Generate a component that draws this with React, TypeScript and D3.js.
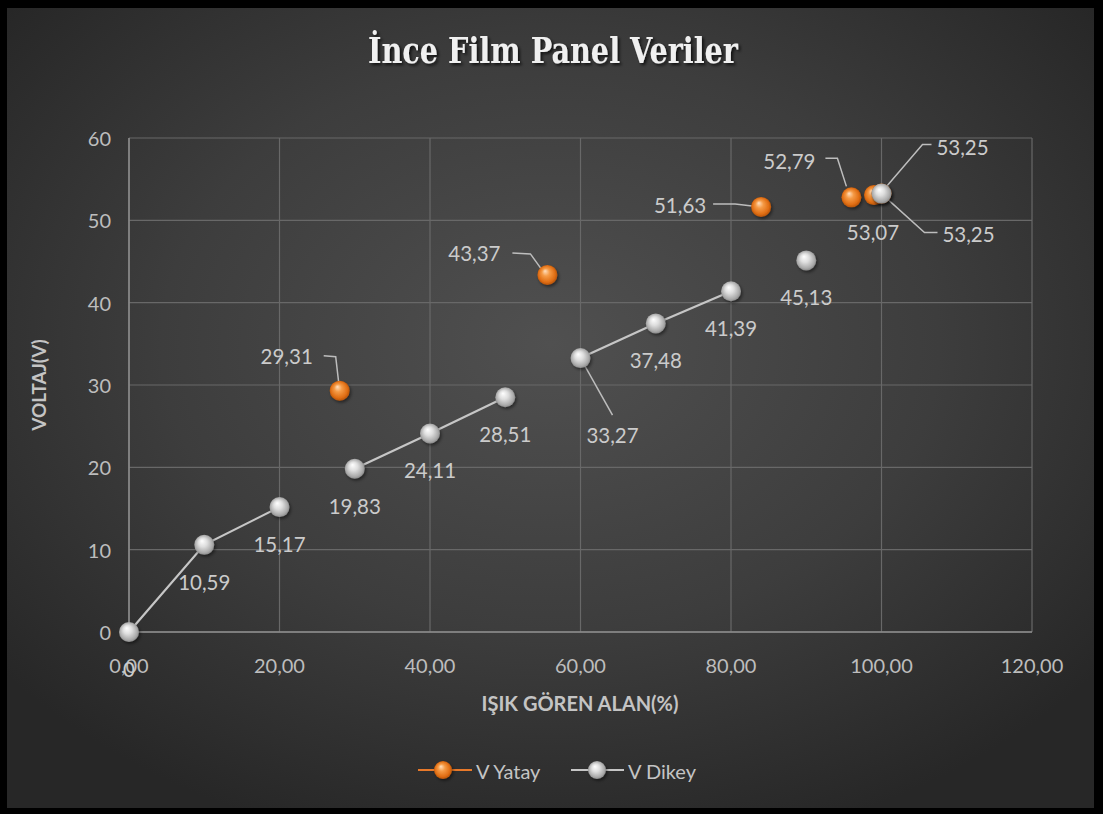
import React from 'react';
import * as d3 from 'd3';

const chartTitle = 'İnce Film Panel Veriler';
const xAxisTitle = 'IŞIK GÖREN ALAN(%)';
const yAxisTitle = 'VOLTAJ(V)';
const seriesNames = ['V Yatay', 'V Dikey'];

const dikeyX = [0, 10, 20, 30, 40, 50, 60, 70, 80, 90, 100];
const dikeyV = [0, 10.59, 15.17, 19.83, 24.11, 28.51, 33.27, 37.48, 41.39, 45.13, 53.25];
// connected runs of the V Dikey line (start index, end index)
const dikeyRuns = [[0, 2], [3, 5], [6, 8]];

const yatayX = [28, 55.6, 84, 96, 99, 100];
const yatayV = [29.31, 43.37, 51.63, 52.79, 53.07, 53.25];

const xTicks = [0, 20, 40, 60, 80, 100, 120];
const yTicks = [0, 10, 20, 30, 40, 50, 60];

type Lab = { tx: number; ty: number; leader?: [number, number][] };
const below: Lab = { tx: 0, ty: 37 };
const dikeyLabels: Lab[] = [
  below, below, below, below, below, below,
  { tx: 32, ty: 77, leader: [[0, 0], [32, 57]] },
  below, below, below,
  { tx: 81, ty: -47, leader: [[5, -7], [41, -49], [50, -49]] },
];
const yatayLabels: Lab[] = [
  { tx: -53, ty: -35, leader: [[-1, -8], [-4, -34], [-16, -35]] },
  { tx: -73, ty: -22, leader: [[-4, -3], [-17, -21], [-35, -22]] },
  { tx: -81, ty: -2, leader: [[-9, -1], [-26, -3], [-48, -3]] },
  { tx: -62, ty: -36, leader: [[-5, -11], [-14, -39], [-26, -39]] },
  { tx: -1, ty: 37 },
  { tx: 87, ty: 40, leader: [[1, 1], [43, 39], [56, 39]] },
];

const W = 1103;
const H = 814;
const M = { left: 129, right: 1032, top: 138, bottom: 632 };
const FONT = 'Lato, "Open Sans", sans-serif';
const fmtTick = (v: number) => v.toFixed(2).replace('.', ',');
const fmtVal = (v: number) => (v === 0 ? '0' : v.toFixed(2).replace('.', ','));

export default function App() {
  const x = d3.scaleLinear().domain([0, 120]).range([M.left, M.right]);
  const y = d3.scaleLinear().domain([0, 60]).range([M.bottom, M.top]);
  const line = d3
    .line<number>()
    .x((i) => x(dikeyX[i]))
    .y((i) => y(dikeyV[i]));
  const leaderLine = d3.line<[number, number]>();
  const labelColor = '#cbcbcb';

  const renderLabel = (px: number, py: number, v: number, l: Lab, key: string) => (
    <g key={key}>
      {l.leader && (
        <path
          d={leaderLine(l.leader.map(([a, b]) => [px + a, py + b]) as [number, number][]) || ''}
          fill="none"
          stroke="#bdbdbd"
          strokeWidth={1.5}
        />
      )}
      <text
        x={px + l.tx}
        y={py + l.ty}
        textAnchor="middle"
        dominantBaseline="central"
        fontFamily={FONT}
        fontSize={20.5}
        fill={labelColor}
      >
        {fmtVal(v)}
      </text>
    </g>
  );

  const marker = (cx: number, cy: number, grad: string, key: string, r = 10) => (
    <circle key={key} cx={cx} cy={cy} r={r} fill={`url(#${grad})`} filter="url(#mshadow)" />
  );

  return (
    <div style={{ position: 'absolute', left: 0, top: 0 }}>
      <svg width={W} height={H} style={{ display: 'block' }}>
        <defs>
          <radialGradient id="bg" cx="50%" cy="42%" r="65%">
            <stop offset="0%" stopColor="#505050" />
            <stop offset="55%" stopColor="#3d3d3d" />
            <stop offset="100%" stopColor="#272727" />
          </radialGradient>
          <radialGradient id="gOrange" cx="50%" cy="50%" r="55%" fx="38%" fy="30%">
            <stop offset="0%" stopColor="#ffe0c0" />
            <stop offset="35%" stopColor="#f59a45" />
            <stop offset="75%" stopColor="#e06e14" />
            <stop offset="100%" stopColor="#a84a06" />
          </radialGradient>
          <radialGradient id="gGrey" cx="50%" cy="50%" r="55%" fx="38%" fy="30%">
            <stop offset="0%" stopColor="#ffffff" />
            <stop offset="40%" stopColor="#dedede" />
            <stop offset="80%" stopColor="#a9a9a9" />
            <stop offset="100%" stopColor="#7a7a7a" />
          </radialGradient>
          <filter id="mshadow" x="-50%" y="-50%" width="200%" height="200%">
            <feDropShadow dx="1.5" dy="2" stdDeviation="1.5" floodColor="#000" floodOpacity="0.45" />
          </filter>
          <filter id="tshadow" x="-10%" y="-30%" width="120%" height="160%">
            <feDropShadow dx="2" dy="2" stdDeviation="1.5" floodColor="#000" floodOpacity="0.7" />
          </filter>
        </defs>

        <rect x={0} y={0} width={W} height={H} fill="#000" />
        <rect x={7} y={8} width={1087} height={800} fill="url(#bg)" />

        <text
          x={553}
          y={63}
          textAnchor="middle"
          fontFamily='"DejaVu Serif Condensed", "DejaVu Serif", serif'
          fontWeight="bold"
          fontStretch="condensed"
          fontSize={35}
          textLength={370}
          lengthAdjust="spacingAndGlyphs"
          fill="#f0f0f0"
          filter="url(#tshadow)"
        >
          {chartTitle}
        </text>

        {/* gridlines */}
        {xTicks.map((t) => (
          <line key={'gx' + t} x1={x(t)} x2={x(t)} y1={M.top} y2={M.bottom} stroke="#686868" strokeWidth={1.2} />
        ))}
        {yTicks.map((t) => (
          <line key={'gy' + t} x1={M.left} x2={M.right} y1={y(t)} y2={y(t)} stroke="#686868" strokeWidth={1.2} />
        ))}
        <line x1={M.left} x2={M.right} y1={y(0)} y2={y(0)} stroke="#8e8e8e" strokeWidth={1.5} />
        <line x1={x(0)} x2={x(0)} y1={M.top} y2={M.bottom} stroke="#8e8e8e" strokeWidth={1.5} />

        {/* tick labels */}
        {yTicks.map((t) => (
          <text
            key={'ty' + t}
            x={x(0) - 18}
            y={y(t)}
            textAnchor="end"
            dominantBaseline="central"
            fontFamily={FONT}
            fontSize={20}
            fill="#bdbdbd"
          >
            {t}
          </text>
        ))}
        {xTicks.map((t) => (
          <text
            key={'tx' + t}
            x={x(t)}
            y={y(0) + 33}
            textAnchor="middle"
            dominantBaseline="central"
            fontFamily={FONT}
            fontSize={20}
            fill="#bdbdbd"
          >
            {fmtTick(t)}
          </text>
        ))}

        {/* axis titles */}
        <text
          x={580}
          y={y(0) + 71}
          textAnchor="middle"
          dominantBaseline="central"
          fontFamily={FONT}
          fontWeight="bold"
          fontSize={20}
          fill="#c4c4c4"
        >
          {xAxisTitle}
        </text>
        <text
          transform={`translate(38, ${y(30)}) rotate(-90)`}
          textAnchor="middle"
          dominantBaseline="central"
          fontFamily={FONT}
          fontWeight="bold"
          fontSize={19}
          fill="#c4c4c4"
        >
          {yAxisTitle}
        </text>

        {/* V Dikey line runs */}
        {dikeyRuns.map(([s, e], k) => (
          <path
            key={'run' + k}
            d={line(d3.range(s, e + 1)) || ''}
            fill="none"
            stroke="#c6c6c6"
            strokeWidth={2.2}
          />
        ))}

        {/* leaders + labels */}
        {dikeyV.map((v, i) => renderLabel(x(dikeyX[i]), y(v), v, dikeyLabels[i], 'dl' + i))}
        {yatayV.map((v, i) => renderLabel(x(yatayX[i]), y(v), v, yatayLabels[i], 'yl' + i))}

        {/* markers */}
        {yatayV.map((v, i) => marker(x(yatayX[i]), y(v), 'gOrange', 'ym' + i))}
        {dikeyV.map((v, i) => marker(x(dikeyX[i]), y(v), 'gGrey', 'dm' + i))}

        {/* legend */}
        <g>
          <line x1={418} x2={472} y1={770} y2={770} stroke="#e8792a" strokeWidth={2.2} />
          {marker(443, 770, 'gOrange', 'lgo', 9)}
          <text x={476} y={771} dominantBaseline="central" fontFamily={FONT} fontSize={20} fill="#c4c4c4">
            {seriesNames[0]}
          </text>
          <line x1={571} x2={624} y1={770} y2={770} stroke="#c6c6c6" strokeWidth={2.2} />
          {marker(597, 770, 'gGrey', 'lgg', 9)}
          <text x={628} y={771} dominantBaseline="central" fontFamily={FONT} fontSize={20} fill="#c4c4c4">
            {seriesNames[1]}
          </text>
        </g>
      </svg>
    </div>
  );
}
